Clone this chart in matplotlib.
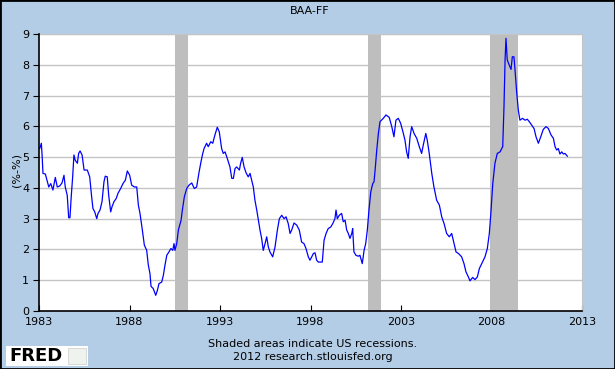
import matplotlib
matplotlib.use("Agg")
import matplotlib.pyplot as plt
import matplotlib.patches as patches

# BAA - Fed funds spread (decimal year, percent)
years = [1983.04, 1983.13, 1983.17, 1983.22, 1983.35, 1983.46, 1983.54, 1983.65, 1983.77, 1983.90,
         1984.01, 1984.14, 1984.27, 1984.38, 1984.45, 1984.56, 1984.64, 1984.71, 1984.78, 1984.86,
         1984.93, 1985.00, 1985.12, 1985.19, 1985.27, 1985.38, 1985.49, 1985.67, 1985.80, 1985.90,
         1985.98, 1986.08, 1986.19, 1986.26, 1986.37, 1986.48, 1986.59, 1986.66, 1986.77, 1986.85,
         1986.96, 1987.03, 1987.14, 1987.27, 1987.36, 1987.51, 1987.64, 1987.77, 1987.88, 1988.01,
         1988.12, 1988.27, 1988.40, 1988.49, 1988.58, 1988.71, 1988.82, 1988.95, 1989.04, 1989.13,
         1989.19, 1989.31, 1989.45, 1989.54, 1989.63, 1989.78, 1989.87, 1989.96, 1990.06, 1990.18,
         1990.29, 1990.39, 1990.46, 1990.51, 1990.61, 1990.70, 1990.85, 1990.92, 1991.03, 1991.16,
         1991.29, 1991.44, 1991.58, 1991.71, 1991.84, 1991.95, 1992.04, 1992.12, 1992.26, 1992.35,
         1992.49, 1992.60, 1992.72, 1992.85, 1992.96, 1993.09, 1993.18, 1993.28, 1993.40, 1993.55,
         1993.65, 1993.74, 1993.83, 1993.92, 1994.07, 1994.14, 1994.23, 1994.33, 1994.44, 1994.56,
         1994.66, 1994.75, 1994.84, 1994.93, 1995.03, 1995.12, 1995.21, 1995.30, 1995.39, 1995.49,
         1995.58, 1995.67, 1995.76, 1995.91, 1996.04, 1996.17, 1996.28, 1996.41, 1996.54, 1996.65,
         1996.77, 1996.87, 1996.96, 1997.09, 1997.24, 1997.38, 1997.51, 1997.64, 1997.75, 1997.88,
         1997.97, 1998.07, 1998.16, 1998.25, 1998.34, 1998.43, 1998.65, 1998.75, 1998.86, 1998.98,
         1999.12, 1999.23, 1999.35, 1999.41, 1999.48, 1999.59, 1999.72, 1999.81, 1999.91, 2000.00,
         2000.09, 2000.18, 2000.28, 2000.33, 2000.40, 2000.51, 2000.64, 2000.73, 2000.86, 2000.96,
         2001.05, 2001.14, 2001.23, 2001.33, 2001.44, 2001.51, 2001.57, 2001.66, 2001.75, 2001.84,
         2002.02, 2002.17, 2002.35, 2002.49, 2002.61, 2002.72, 2002.85, 2002.98, 2003.13, 2003.22,
         2003.31, 2003.40, 2003.50, 2003.59, 2003.72, 2003.87, 2004.01, 2004.14, 2004.23, 2004.37,
         2004.45, 2004.56, 2004.70, 2004.82, 2004.97, 2005.12, 2005.25, 2005.38, 2005.52, 2005.67,
         2005.80, 2005.93, 2006.04, 2006.17, 2006.35, 2006.48, 2006.59, 2006.72, 2006.81, 2006.96,
         2007.09, 2007.22, 2007.33, 2007.46, 2007.64, 2007.77, 2007.88, 2007.97, 2008.07, 2008.19,
         2008.32, 2008.47, 2008.62, 2008.69, 2008.75, 2008.80, 2008.87, 2008.98, 2009.08, 2009.15,
         2009.24, 2009.30, 2009.39, 2009.48, 2009.57, 2009.72, 2009.85, 2009.98, 2010.09, 2010.22,
         2010.35, 2010.46, 2010.59, 2010.72, 2010.86, 2011.01, 2011.14, 2011.29, 2011.42, 2011.51,
         2011.60, 2011.69, 2011.78, 2011.88, 2011.97, 2012.06, 2012.19]
spread = [5.28, 5.45, 5.07, 4.47, 4.45, 4.20, 4.03, 4.14, 3.93, 4.34,
          4.03, 4.06, 4.16, 4.41, 4.03, 3.76, 3.03, 3.03, 3.71, 4.36,
          5.07, 4.90, 4.80, 5.12, 5.20, 5.07, 4.58, 4.58, 4.36, 3.76,
          3.33, 3.22, 3.00, 3.17, 3.28, 3.55, 4.20, 4.38, 4.36, 3.76,
          3.22, 3.38, 3.55, 3.66, 3.82, 3.98, 4.14, 4.25, 4.55, 4.41,
          4.09, 4.03, 4.03, 3.44, 3.17, 2.63, 2.14, 1.97, 1.49, 1.22,
          0.80, 0.73, 0.51, 0.67, 0.89, 0.94, 1.16, 1.49, 1.81, 1.92,
          2.03, 1.97, 2.19, 1.97, 2.19, 2.63, 2.95, 3.28, 3.71, 3.98,
          4.09, 4.16, 3.98, 4.03, 4.50, 4.85, 5.10, 5.28, 5.45, 5.34,
          5.50, 5.45, 5.72, 5.97, 5.82, 5.28, 5.12, 5.17, 4.96, 4.68,
          4.31, 4.31, 4.63, 4.68, 4.58, 4.80, 4.99, 4.68, 4.49, 4.36,
          4.47, 4.25, 4.03, 3.60, 3.28, 2.95, 2.63, 2.36, 1.97, 2.19,
          2.41, 2.08, 1.92, 1.76, 2.08, 2.63, 3.00, 3.11, 3.00, 3.06,
          2.84, 2.52, 2.63, 2.86, 2.79, 2.63, 2.24, 2.19, 2.03, 1.76,
          1.65, 1.76, 1.87, 1.89, 1.65, 1.59, 1.59, 2.30, 2.52, 2.68,
          2.73, 2.84, 3.00, 3.28, 3.00, 3.11, 3.17, 2.90, 2.95, 2.63,
          2.52, 2.36, 2.52, 2.68, 1.92, 1.81, 1.78, 1.81, 1.54, 1.97,
          2.19, 2.63, 3.28, 3.87, 4.14, 4.20, 4.58, 5.23, 5.77, 6.15,
          6.26, 6.37, 6.29, 5.99, 5.66, 6.20, 6.26, 6.10, 5.77, 5.55,
          5.17, 4.96, 5.66, 5.99, 5.77, 5.61, 5.34, 5.12, 5.39, 5.77,
          5.55, 5.12, 4.47, 4.03, 3.60, 3.44, 3.06, 2.84, 2.52, 2.41,
          2.52, 2.19, 1.92, 1.87, 1.76, 1.54, 1.27, 1.11, 0.98, 1.09,
          1.02, 1.11, 1.38, 1.54, 1.76, 2.03, 2.52, 3.22, 4.14, 4.80,
          5.12, 5.17, 5.34, 6.64, 8.16, 8.86, 8.16, 7.99, 7.85, 8.26,
          8.26, 7.83, 7.12, 6.53, 6.20, 6.26, 6.20, 6.23, 6.15, 6.04,
          5.93, 5.66, 5.45, 5.66, 5.90, 5.99, 5.93, 5.72, 5.61, 5.34,
          5.23, 5.28, 5.10, 5.17, 5.10, 5.12, 5.03]

# US recessions (NBER), decimal years
rec_start = [1990.50, 2001.17, 2007.92]
rec_end = [1991.21, 2001.88, 2009.46]

xticks = [1983, 1988, 1993, 1998, 2003, 2008, 2013]
yticks = list(range(0, 10))

bg = "#B4CDE6"
fig = plt.figure(figsize=(6.15, 3.69), dpi=100, facecolor=bg)
ax = fig.add_axes([39 / 615, 1 - 311 / 369, 543 / 615, 277 / 369])
ax.set_facecolor("white")

for s, e in zip(rec_start, rec_end):
    ax.axvspan(s, e, color="#BEBEBE", lw=0, zorder=1)

ax.plot(years, spread, color="#0000FF", lw=0.9, zorder=3)

ax.set_xlim(1983, 2013)
ax.set_ylim(0, 9)
ax.set_xticks(xticks)
ax.set_yticks(yticks)
ax.yaxis.grid(True, color="#C4C4C4", lw=1)
ax.set_axisbelow(True)

for side in ["top", "right"]:
    ax.spines[side].set_color("#C4C4C4")
for side in ["left", "bottom"]:
    ax.spines[side].set_color("black")
    ax.spines[side].set_linewidth(1.2)
    ax.spines[side].set_zorder(4)

ax.tick_params(axis="x", direction="in", length=4, labelsize=8, pad=4, colors="black")
ax.tick_params(axis="y", direction="out", length=4, labelsize=8, pad=3, colors="black")

fig.text(310 / 615, 1 - 11 / 369, "BAA-FF", ha="center", va="center", fontsize=8)
fig.text(17 / 615, 1 - 170 / 369, "(%-%)", rotation=90, ha="center", va="center", fontsize=8)
fig.text(313 / 615, 1 - 344 / 369, "Shaded areas indicate US recessions.",
         ha="center", va="center", fontsize=8)
fig.text(313 / 615, 1 - 357 / 369, "2012 research.stlouisfed.org",
         ha="center", va="center", fontsize=8)

# FRED logo
fig.patches.append(patches.Rectangle((6 / 615, 1 - 366 / 369), 82 / 615, 20 / 369,
                                     transform=fig.transFigure, fc="white", ec="none"))
fig.text(9 / 615, 1 - 356 / 369, "FRED", ha="left", va="center", fontsize=13,
         fontweight="bold", color="black")
fig.patches.append(patches.Rectangle((68 / 615, 1 - 364 / 369), 18 / 615, 16 / 369,
                                     transform=fig.transFigure, fc="#EEF3EE", ec="#CCCCCC", lw=0.5))

# outer border
fig.patches.append(patches.Rectangle((0, 0), 1, 1, transform=fig.transFigure,
                                     fill=False, ec="black", lw=2))

fig.savefig("out.png", dpi=100, facecolor=bg)
